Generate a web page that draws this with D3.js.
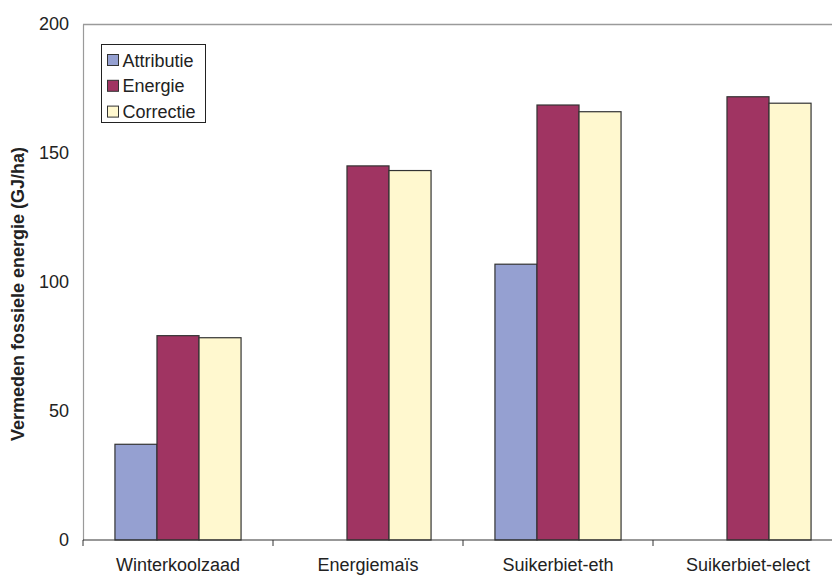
<!DOCTYPE html>
<html>
<head>
<meta charset="utf-8">
<script src="https://cdn.jsdelivr.net/npm/d3@7"></script>
<style>
  html, body { margin: 0; padding: 0; background: #fff; }
  svg { display: block; font-family: Arial, "Liberation Sans", sans-serif; }
</style>
</head>
<body>
<svg id="chart" width="832" height="577"></svg>
<script>
// Crops and the three calculation methods
const categories = ["Winterkoolzaad", "Energiemaïs", "Suikerbiet-eth", "Suikerbiet-elect"];
const seriesNames = ["Attributie", "Energie", "Correctie"];
const attributie = [37.1, null, 106.9, null];
const energie = [79.2, 145.0, 168.6, 171.8];
const correctie = [78.4, 143.2, 166.0, 169.3];
const yTicks = [0, 50, 100, 150, 200];
const colors = ["#95A0D1", "#A03462", "#FFF8CF"];

const seriesValues = [attributie, energie, correctie];
const FONT = "Arial, 'Liberation Sans', sans-serif";

const svg = d3.select("#chart");
const margin = { left: 83, top: 24, bottom: 540 };
const plotRight = 843; // plot area continues past the right edge

const x = d3.scaleBand().domain(categories).range([margin.left, plotRight]);
const xInner = d3.scaleBand().domain(seriesNames)
  .range([0, x.bandwidth()]).paddingOuter(0.76).paddingInner(0);
const y = d3.scaleLinear().domain([0, 200]).range([margin.bottom, margin.top]);

// top border of plot area
svg.append("line")
  .attr("x1", margin.left).attr("x2", plotRight)
  .attr("y1", y(200) + 0.5).attr("y2", y(200) + 0.5)
  .attr("stroke", "#9a9a9a").attr("stroke-width", 1.5);

// y axis (no tick marks)
const yAxis = svg.append("g")
  .attr("transform", `translate(${margin.left},0)`)
  .call(d3.axisLeft(y).tickValues(yTicks).tickSize(0).tickPadding(14));
yAxis.select(".domain").attr("stroke", "#9a9a9a").attr("stroke-width", 1.2);
yAxis.selectAll("text").attr("font-size", 18).attr("fill", "#222")
  .attr("font-family", FONT);

// bars
const rows = [];
categories.forEach((c, i) => {
  seriesNames.forEach((s, j) => {
    const v = seriesValues[j][i];
    if (v != null) rows.push({ c, s, v, j });
  });
});

svg.append("g").selectAll("rect").data(rows).join("rect")
  .attr("x", d => x(d.c) + xInner(d.s))
  .attr("y", d => y(d.v))
  .attr("width", xInner.bandwidth())
  .attr("height", d => y(0) - y(d.v))
  .attr("fill", d => colors[d.j])
  .attr("stroke", "#333")
  .attr("stroke-width", 1.2);

// x axis with category separators
const xAxis = svg.append("g")
  .attr("transform", `translate(0,${margin.bottom})`);
xAxis.append("line")
  .attr("x1", margin.left).attr("x2", plotRight)
  .attr("y1", 0).attr("y2", 0)
  .attr("stroke", "#333").attr("stroke-width", 1.2);
const bounds = categories.map(c => x(c)).concat([plotRight]);
xAxis.selectAll("line.sep").data(bounds).join("line")
  .attr("class", "sep")
  .attr("x1", d => d).attr("x2", d => d)
  .attr("y1", 0).attr("y2", 6)
  .attr("stroke", "#333").attr("stroke-width", 1);
xAxis.selectAll("text").data(categories).join("text")
  .attr("x", d => x(d) + x.bandwidth() / 2)
  .attr("y", 31)
  .attr("text-anchor", "middle")
  .attr("font-size", 18).attr("fill", "#222")
  .text(d => d);

// y axis title
svg.append("text")
  .attr("transform", `translate(24,${(margin.top + margin.bottom) / 2 + 12}) rotate(-90)`)
  .attr("text-anchor", "middle")
  .attr("font-size", 18).attr("font-weight", "bold").attr("fill", "#222")
  .text("Vermeden fossiele energie (GJ/ha)");

// legend
const legend = svg.append("g").attr("transform", "translate(101.5,44.5)");
legend.append("rect")
  .attr("width", 104).attr("height", 78)
  .attr("fill", "#fff").attr("stroke", "#222").attr("stroke-width", 1);
seriesNames.forEach((s, j) => {
  const cy = 15.5 + j * 25.8;
  legend.append("rect")
    .attr("x", 6).attr("y", cy - 5.5).attr("width", 11).attr("height", 11)
    .attr("fill", colors[j]).attr("stroke", "#333").attr("stroke-width", 1);
  legend.append("text")
    .attr("x", 21).attr("y", cy + 6.5)
    .attr("font-size", 18).attr("fill", "#222")
    .text(s);
});
</script>
</body>
</html>
